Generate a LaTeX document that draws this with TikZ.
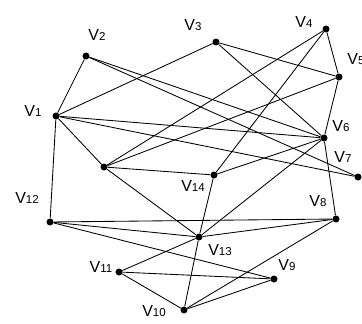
\documentclass[tikz,border=0pt]{standalone}
\usepackage{fontspec}
\setmainfont{Liberation Sans}
\newcommand\vlab[1]{{\fontsize{16}{16}\selectfont V}{\fontsize{11.5}{12}\selectfont #1}}
\begin{document}
\begin{tikzpicture}[x=1pt,y=-1pt,
  vtx/.style={circle,fill=black,inner sep=0pt,minimum size=7pt},
  lbl/.style={inner sep=0pt,text=black},
  edge/.style={line width=0.85pt,black}]
\useasboundingbox (0,0) rectangle (362,324);
\node[vtx] (v1) at (56,116) {};
\node[vtx] (v2) at (86,56) {};
\node[vtx] (v3) at (216,42) {};
\node[vtx] (v4) at (326,29) {};
\node[vtx] (v5) at (339,77) {};
\node[vtx] (v6) at (324,138) {};
\node[vtx] (v7) at (358,177) {};
\node[vtx] (v8) at (336,219) {};
\node[vtx] (v9) at (274,279) {};
\node[vtx] (v10) at (184,310) {};
\node[vtx] (v11) at (119,272) {};
\node[vtx] (v12) at (50,222) {};
\node[vtx] (v13) at (199,237) {};
\node[vtx] (v14) at (214,175) {};
\node[vtx] (u) at (104,167) {};
\foreach \a/\b in {v1/v2,v1/v12,v1/v3,v1/u,v1/v6,v1/v7,v2/v6,v2/v7,v3/v5,v3/v6,
  v4/v5,v4/u,v4/v14,v5/v6,v5/u,v6/v14,v6/v13,v6/v8,u/v14,u/v13,v14/v13,
  v8/v12,v8/v13,v8/v10,v12/v13,v12/v9,v11/v13,v11/v9,v11/v10,v13/v10,v10/v9}
  \draw[edge] (\a) -- (\b);
\node[lbl] (l1) at (33,111) {\vlab{1}};
\node[lbl] (l2) at (97,35) {\vlab{2}};
\node[lbl] (l3) at (193,25) {\vlab{3}};
\node[lbl] (l4) at (304,22) {\vlab{4}};
\node[lbl] (l5) at (356,59) {\vlab{5}};
\node[lbl] (l6) at (341,126) {\vlab{6}};
\node[lbl] (l7) at (343,157) {\vlab{7}};
\node[lbl] (l8) at (318,201) {\vlab{8}};
\node[lbl] (l9) at (287,265) {\vlab{9}};
\node[lbl] (l10) at (154,311) {\vlab{10}};
\node[lbl] (l11) at (101,267) {\vlab{11}};
\node[lbl] (l12) at (27,198) {\vlab{12}};
\node[lbl] (l13) at (220,250) {\vlab{13}};
\node[lbl] (l14) at (193,186) {\vlab{14}};
\end{tikzpicture}
\end{document}
